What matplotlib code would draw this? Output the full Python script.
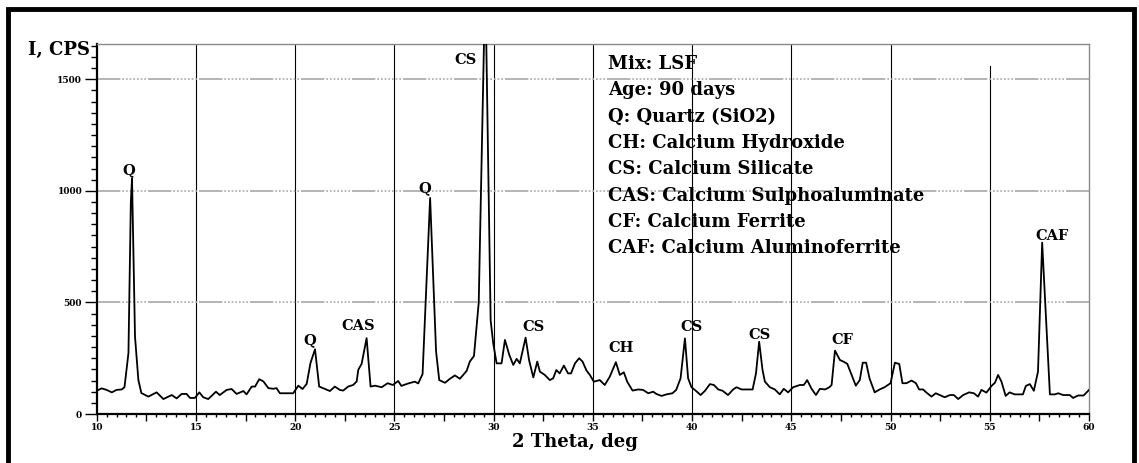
import numpy as np
import matplotlib.pyplot as plt
from matplotlib.lines import Line2D
from matplotlib.ticker import FixedLocator, FuncFormatter


# XRD pattern
two_theta = [
    10.0, 10.25, 10.5, 10.76, 11.0, 11.26, 11.4, 11.6, 11.72, 11.78, 11.93, 12.1,
    12.25, 12.6, 13.02, 13.36, 13.78, 14.03, 14.28, 14.53, 14.7, 14.95, 15.17,
    15.37, 15.62, 16.01, 16.2, 16.55, 16.8, 17.05, 17.39, 17.55, 17.81, 17.98,
    18.19, 18.4, 18.65, 18.9, 19.06, 19.23, 19.9, 20.16, 20.37, 20.58, 20.77,
    21.0, 21.21, 21.5, 21.75, 22.0, 22.25, 22.42, 22.67, 22.92, 23.1, 23.18,
    23.35, 23.6, 23.8, 24.02, 24.36, 24.66, 24.92, 25.19, 25.35, 25.7, 26.03,
    26.2, 26.42, 26.8, 27.1, 27.26, 27.55, 27.8, 28.05, 28.3, 28.64, 28.8,
    29.01, 29.25, 29.58, 29.85, 29.98, 30.15, 30.4, 30.57, 30.79, 30.99, 31.16,
    31.32, 31.61, 31.79, 32.0, 32.2, 32.33, 32.58, 32.83, 33.0, 33.16, 33.33,
    33.54, 33.75, 33.9, 34.1, 34.31, 34.48, 34.68, 34.85, 35.05, 35.35, 35.6,
    35.85, 36.16, 36.36, 36.56, 36.73, 37.0, 37.28, 37.53, 37.79, 38.04, 38.2,
    38.46, 38.71, 39.01, 39.2, 39.42, 39.64, 39.8, 39.97, 40.14, 40.43, 40.65,
    40.9, 41.1, 41.32, 41.54, 41.81, 42.07, 42.24, 42.49, 42.74, 43.05, 43.22,
    43.38, 43.55, 43.67, 43.92, 44.17, 44.42, 44.62, 44.84, 45.09, 45.43, 45.63,
    45.8, 46.02, 46.24, 46.44, 46.7, 46.92, 47.03, 47.2, 47.45, 47.62, 47.82,
    48.04, 48.25, 48.45, 48.6, 48.77, 48.94, 49.2, 49.45, 49.7, 50.0, 50.22,
    50.44, 50.6, 50.8, 51.06, 51.28, 51.44, 51.64, 51.8, 52.06, 52.28, 52.48,
    52.73, 52.99, 53.19, 53.41, 53.66, 53.96, 54.2, 54.41, 54.58, 54.83, 55.09,
    55.26, 55.42, 55.59, 55.8, 56.0, 56.25, 56.5, 56.67, 56.82, 57.02, 57.22,
    57.43, 57.64, 58.03, 58.28, 58.45, 58.7, 59.03, 59.2, 59.45, 59.73, 60.0,
]
intensity = [
    104, 115, 108, 97, 108, 110, 120, 273, 950, 1055, 347, 152,
    94, 78, 97, 67, 85, 70, 90, 90, 72, 72, 97,
    75, 67, 100, 85, 108, 112, 90, 103, 88, 123, 123,
    156, 146, 116, 113, 116, 93, 93, 127, 112, 135, 228,
    290, 123, 112, 103, 123, 108, 105, 123, 130, 146, 198,
    225, 340, 123, 127, 120, 138, 130, 148, 126, 137, 145,
    137, 179, 968, 280, 152, 140, 158, 173, 158, 193, 235,
    260, 500, 1950, 420, 317, 227, 227, 332, 265, 220, 247,
    227, 342, 240, 164, 235, 190, 175, 152, 160, 197, 182,
    217, 182, 182, 227, 250, 235, 195, 175, 145, 152, 130,
    167, 232, 175, 187, 145, 105, 110, 108, 93, 100, 90,
    81, 88, 93, 108, 160, 339, 160, 120, 108, 85, 104,
    134, 130, 110, 104, 85, 110, 120, 110, 110, 110, 182,
    324, 197, 145, 120, 110, 88, 113, 97, 120, 130, 130,
    152, 113, 85, 113, 110, 120, 130, 284, 242, 235, 225,
    175, 127, 152, 230, 230, 160, 97, 110, 120, 138, 230,
    224, 138, 138, 150, 138, 110, 110, 97, 78, 93, 85,
    75, 85, 85, 67, 85, 97, 93, 78, 108, 96, 126,
    140, 175, 145, 81, 97, 88, 88, 88, 126, 134, 104,
    190, 768, 88, 88, 93, 85, 85, 72, 83, 83, 108,
]

# peak labels and where they sit
peak_names = ['Q', 'Q', 'CAS', 'Q', 'CS', 'CS', 'CH', 'CS', 'CS', 'CF', 'CAF']
peak_x = [11.63, 20.75, 23.16, 26.54, 28.60, 32.03, 36.41, 39.99, 43.42, 47.55, 58.13]
peak_y = [1094, 332, 395, 1013, 1587, 390, 294, 390, 354, 332, 798]

legend_lines = [
    'Mix: LSF',
    'Age: 90 days',
    'Q: Quartz (SiO2)',
    'CH: Calcium Hydroxide',
    'CS: Calcium Silicate',
    'CAS: Calcium Sulphoaluminate',
    'CF: Calcium Ferrite',
    'CAF: Calcium Aluminoferrite',
]

y_major = [0, 500, 1000, 1500]
x_labels = [10, 15, 20, 25, 30, 35, 40, 45, 50, 55, 60]

SERIF = 'DejaVu Serif'

fig = plt.figure(figsize=(11.39, 4.63), dpi=100)
ax = fig.add_axes([0.0849, 0.1058, 0.8712, 0.8002])

# outer black frame (left, top, right only)
fx = [0.0069, 0.0069, 0.9952, 0.9952]
fy = [0.0, 0.9806, 0.9806, 0.0]
fig.lines.append(Line2D(fx, fy, transform=fig.transFigure, color='black',
                        linewidth=3.5, solid_joinstyle='miter'))

# grid
for xv in x_labels[1:-1]:
    top = 0.94 if xv == 55 else 1.0
    ax.axvline(xv, ymin=0, ymax=top, color='black', linewidth=0.8, zorder=1)
for yv in y_major[1:]:
    ax.axhline(yv, color='#a8a8a8', linewidth=1.2, zorder=1,
               linestyle=(0, (14, 1.2, 1, 1.2, 1, 1.2, 1, 1.2, 1, 1.2, 1, 1.2, 1, 1.2, 1, 1.2)))

ax.plot(two_theta, intensity, color='black', linewidth=1.3, zorder=3)

ax.set_xlim(10, 60)
ax.set_ylim(0, 1660)

# ticks
ax.xaxis.set_major_locator(FixedLocator(np.arange(10, 60.1, 2.5)))
ax.xaxis.set_minor_locator(FixedLocator(np.arange(10, 60.1, 0.5)))
ax.xaxis.set_major_formatter(FuncFormatter(lambda v, p: '%d' % v if v % 5 == 0 else ''))
ax.yaxis.set_major_locator(FixedLocator(y_major))
ax.yaxis.set_minor_locator(FixedLocator(np.arange(0, 1651, 50)))
ax.tick_params(axis='x', which='major', direction='out', length=5, width=1, pad=1.5)
ax.tick_params(axis='x', which='minor', direction='out', length=2.5, width=1)
ax.tick_params(axis='y', which='major', direction='out', length=8.5, width=1, pad=2)
ax.tick_params(axis='y', which='minor', direction='out', length=4.3, width=1)
for lab in ax.get_xticklabels() + ax.get_yticklabels():
    lab.set_fontfamily(SERIF)
    lab.set_fontweight('bold')
    lab.set_fontsize(6.5)

for side in ['left', 'bottom']:
    ax.spines[side].set_linewidth(1.6)
    ax.spines[side].set_color('black')
for side in ['top', 'right']:
    ax.spines[side].set_linewidth(1.0)
    ax.spines[side].set_color('#8a8a8a')

# peak labels
for name, px, py in zip(peak_names, peak_x, peak_y):
    ax.text(px, py, name, ha='center', va='center', fontsize=10.5,
            fontweight='bold', family=SERIF, zorder=4)

# legend text block
for i, line in enumerate(legend_lines):
    ax.text(0.515, 0.9325 - i * 0.0713, line, transform=ax.transAxes,
            ha='left', va='baseline', fontsize=13, fontweight='bold',
            family=SERIF, zorder=4)

fig.text(0.079, 1 - 55 / 463, 'I, CPS', ha='right', va='baseline',
         fontsize=13, fontweight='bold', family=SERIF)
fig.text(0.505, 1 - 447 / 463, '2 Theta, deg', ha='center', va='baseline',
         fontsize=13, fontweight='bold', family=SERIF)

fig.savefig('out.png', dpi=100)
